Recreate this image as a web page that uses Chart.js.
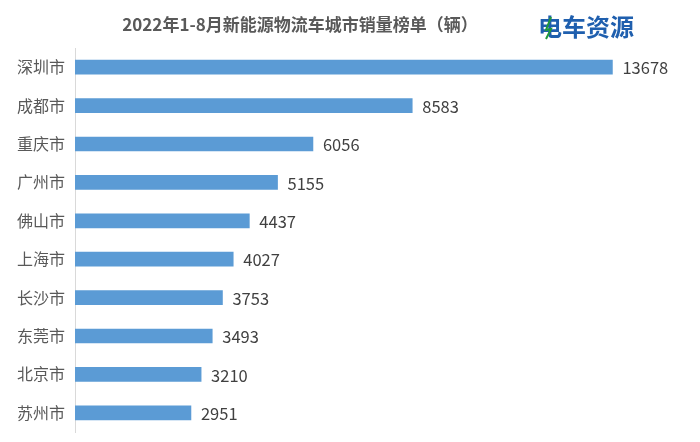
<!DOCTYPE html>
<html>
<head>
<meta charset="utf-8">
<script src="https://cdn.jsdelivr.net/npm/chart.js@4"></script>
<style>
  body { margin: 0; background: #fff; }
  #wrap { width: 700px; height: 442px; }
</style>
</head>
<body>
<div id="wrap"><canvas id="salesChart" width="700" height="442"></canvas></div>
<script>
// Data
const cities = ['深圳市', '成都市', '重庆市', '广州市', '佛山市', '上海市', '长沙市', '东莞市', '北京市', '苏州市'];
const sales = [13678, 8583, 6056, 5155, 4437, 4027, 3753, 3493, 3210, 2951];
const titleText = '2022年1-8月新能源物流车城市销量榜单（辆）';
const logoText = '电车资源';

const FONT = '"Noto Sans CJK SC", "Microsoft YaHei", sans-serif';

// Title + logo drawn on top
const headerPlugin = {
  id: 'header',
  afterDraw(chart) {
    const ctx = chart.ctx;
    ctx.save();
    ctx.textBaseline = 'middle';
    ctx.fillStyle = '#595959';
    ctx.font = 'bold 17px ' + FONT;
    ctx.textAlign = 'center';
    ctx.fillText(titleText, 300, 25);
    ctx.textAlign = 'left';
    ctx.font = 'bold 24px ' + FONT;
    ctx.fillStyle = '#1f5fae';
    ctx.fillText(logoText, 538, 27);
    // green spark on the first glyph
    ctx.strokeStyle = '#1f9a3a';
    ctx.lineWidth = 2;
    ctx.beginPath();
    ctx.moveTo(551, 17);
    ctx.lineTo(546, 30);
    ctx.lineTo(551, 29);
    ctx.lineTo(546, 39);
    ctx.stroke();
    ctx.restore();
  }
};

// Value labels at the end of each bar
const valueLabels = {
  id: 'valueLabels',
  afterDatasetsDraw(chart) {
    const ctx = chart.ctx;
    const meta = chart.getDatasetMeta(0);
    ctx.save();
    ctx.font = '16.5px ' + FONT;
    ctx.fillStyle = '#404040';
    ctx.textAlign = 'left';
    ctx.textBaseline = 'middle';
    meta.data.forEach((bar, i) => {
      ctx.fillText(String(sales[i]), bar.x + 10, bar.y + 1);
    });
    ctx.restore();
  }
};

const ctx = document.getElementById('salesChart').getContext('2d');
new Chart(ctx, {
  type: 'bar',
  data: {
    labels: cities,
    datasets: [{
      data: sales,
      backgroundColor: '#5b9bd5',
      barThickness: 14
    }]
  },
  options: {
    indexAxis: 'y',
    responsive: false,
    animation: false,
    layout: { padding: { top: 48, bottom: 10, right: 16, left: 0 } },
    plugins: {
      legend: { display: false },
      title: { display: false },
      tooltip: { enabled: false }
    },
    scales: {
      x: {
        min: 0,
        max: 15500,
        display: false,
        grid: { display: false }
      },
      y: {
        afterFit(scale) {
          scale.width = 75;
          scale.paddingTop = 0;
          scale.paddingBottom = 0;
        },
        grid: { display: false, drawTicks: false },
        border: { display: true, color: '#d9d9d9', width: 1 },
        ticks: {
          color: '#595959',
          font: { size: 16, family: FONT },
          padding: 10
        }
      }
    }
  },
  plugins: [headerPlugin, valueLabels]
});
</script>
</body>
</html>
